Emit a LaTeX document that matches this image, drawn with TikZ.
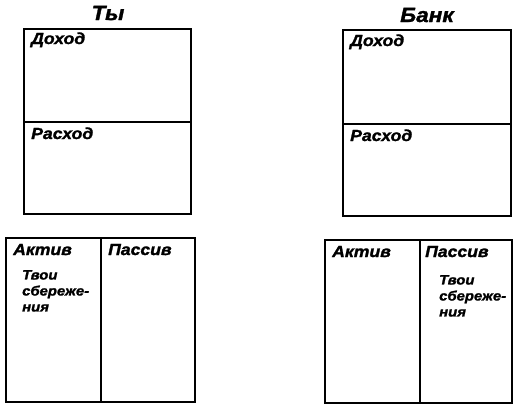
\documentclass[tikz,border=0pt]{standalone}
\usepackage{fontspec}
\setmainfont{Liberation Sans}[FakeStretch=1.1, FakeBold=1.5]
\tikzset{
  box/.style={line width=1.6pt},
  ttl/.style={anchor=base, inner sep=0pt, font=\fontsize{20.5}{21}\selectfont\bfseries\itshape},
  lbl/.style={anchor=base west, inner sep=0pt, font=\fontsize{16}{16}\selectfont\bfseries\itshape},
  note/.style={anchor=north west, inner sep=0pt, align=left, font=\fontsize{13.5}{16}\selectfont\bfseries\itshape},
}
\begin{document}
\begin{tikzpicture}[x=1pt, y=-1pt]
    \useasboundingbox (0,0) rectangle (518,408);

    % you
    \node [ttl] (ty) at (108,20) {Ты};
    \draw [box] (24,29) rectangle (191,214);
    \draw [box] (24,122) -- (191,122);
    \node [lbl] (tyinc) at (31,44) {Доход};
    \node [lbl] (tyexp) at (31,139) {Расход};

    \draw [box] (6,238) rectangle (195,402);
    \draw [box] (101,238) -- (101,402);
    \node [lbl] (tyact) at (13,255) {Актив};
    \node [lbl] (typas) at (108,255) {Пассив};
    \node [note] (tysav) at (22,270) {Твои\\сбереже-\\ния};

    % bank
    \node [ttl] (bank) at (427,22) {Банк};
    \draw [box] (343,30) rectangle (511,216);
    \draw [box] (343,124) -- (511,124);
    \node [lbl] (bankinc) at (350,46) {Доход};
    \node [lbl] (bankexp) at (350,141) {Расход};

    \draw [box] (325,240) rectangle (512,403);
    \draw [box] (420,240) -- (420,403);
    \node [lbl] (bankact) at (332,257) {Актив};
    \node [lbl] (bankpas) at (425,257) {Пассив};
    \node [note] (banksav) at (439,275) {Твои\\сбереже-\\ния};
\end{tikzpicture}
\end{document}
